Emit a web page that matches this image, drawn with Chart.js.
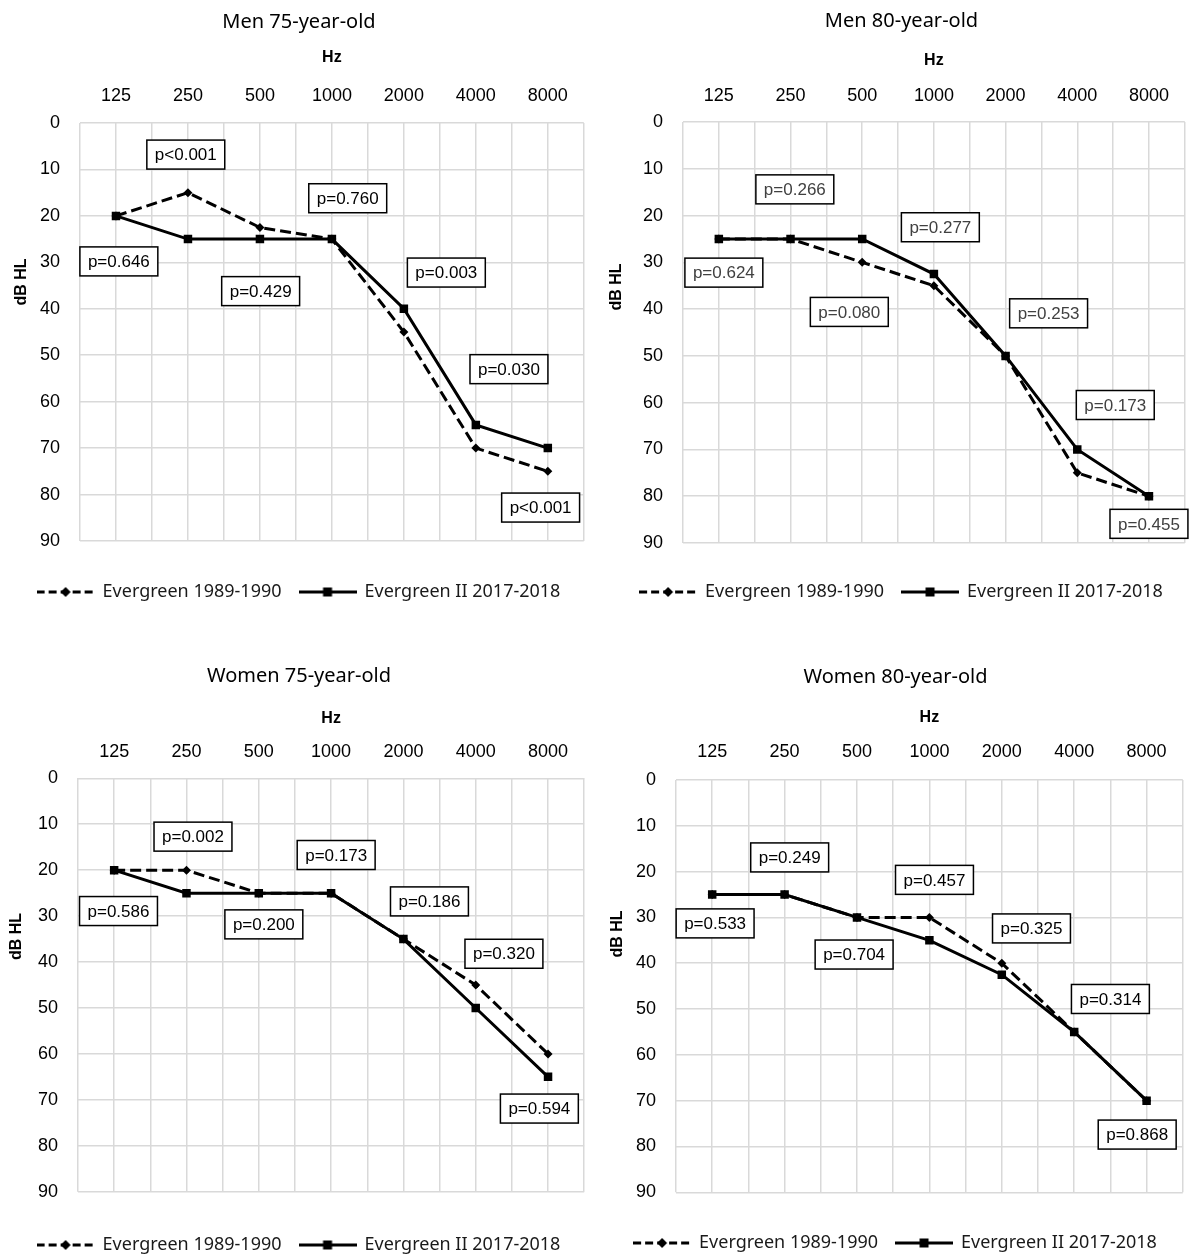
<!DOCTYPE html>
<html>
<head>
<meta charset="utf-8">
<title>Audiograms Evergreen</title>
<script src="https://cdn.jsdelivr.net/npm/chart.js@4.4.1/dist/chart.umd.min.js"></script>
<style>
  html, body { margin: 0; padding: 0; background: #fff; }
  body { width: 1190px; height: 1255px; overflow: hidden; position: relative; }
  canvas { position: absolute; }
</style>
</head>
<body>
<canvas id="men75" width="600" height="650" style="left:0px;top:0px"></canvas>
<canvas id="men80" width="600" height="650" style="left:600px;top:0px"></canvas>
<canvas id="women75" width="600" height="650" style="left:0px;top:656px"></canvas>
<canvas id="women80" width="600" height="650" style="left:600px;top:656px"></canvas>
<script>
// Frequências (eixo X) e nomes das séries
const frequencies = ["125", "250", "500", "1000", "2000", "4000", "8000"];
const seriesNames = ["Evergreen 1989-1990", "Evergreen II 2017-2018"];

// Limiares (dB HL)
const men75Old = [20, 15, 22.5, 25, 45, 70, 75];
const men75New = [20, 25, 25, 25, 40, 65, 70];
const men80Old = [25, 25, 30, 35, 50, 75, 80];
const men80New = [25, 25, 25, 32.5, 50, 70, 80];
const women75Old = [20, 20, 25, 25, 35, 45, 60];
const women75New = [20, 25, 25, 25, 35, 50, 65];
const women80Old = [25, 25, 30, 30, 40, 55, 70];
const women80New = [25, 25, 30, 35, 42.5, 55, 70];

// Valores de p e onde ficam (índice da frequência, dB HL)
const men75P = ["p<0.001", "p=0.760", "p=0.646", "p=0.429", "p=0.003", "p=0.030", "p<0.001"];
const men75PX = [0.97, 3.22, 0.04, 2.01, 4.59, 5.46, 5.9];
const men75PY = [6.8, 16.2, 29.8, 36.2, 32.2, 53, 82.8];

const men80P = ["p=0.266", "p=0.277", "p=0.624", "p=0.080", "p=0.253", "p=0.173", "p=0.455"];
const men80PX = [1.06, 3.09, 0.07, 1.82, 4.6, 5.53, 6.0];
const men80PY = [14.4, 22.5, 32.2, 40.6, 40.9, 60.5, 85.9];

const women75P = ["p=0.002", "p=0.173", "p=0.586", "p=0.200", "p=0.186", "p=0.320", "p=0.594"];
const women75PX = [1.09, 3.07, 0.06, 2.07, 4.36, 5.39, 5.88];
const women75PY = [12.7, 16.7, 28.9, 31.8, 26.8, 38.2, 71.9];

const women80P = ["p=0.249", "p=0.457", "p=0.533", "p=0.704", "p=0.325", "p=0.314", "p=0.868"];
const women80PX = [1.07, 3.07, 0.04, 1.96, 4.41, 5.5, 5.87];
const women80PY = [16.9, 21.8, 31.3, 38.1, 32.4, 47.8, 77.4];

const gridColor = "#d9d9d9";
const sansUI = "'Noto Sans', 'Open Sans', sans-serif";
const sansArial = "'Liberation Sans', Arial, sans-serif";

// Amostra da legenda: linha (tracejada ou não) com o marcador no meio
function legendSample(dashed, marker) {
  const c = document.createElement("canvas");
  c.width = 58;
  c.height = 14;
  const g = c.getContext("2d");
  g.strokeStyle = "#000";
  g.lineWidth = 3;
  if (dashed) g.setLineDash([8, 4]);
  g.beginPath();
  g.moveTo(0, 7);
  g.lineTo(58, 7);
  g.stroke();
  g.setLineDash([]);
  g.fillStyle = "#000";
  if (marker === "diamond") {
    g.beginPath();
    g.moveTo(29, 2);
    g.lineTo(34, 7);
    g.lineTo(29, 12);
    g.lineTo(24, 7);
    g.closePath();
    g.fill();
  } else {
    g.fillRect(24.5, 2.5, 9, 9);
  }
  return c;
}
const dashedSample = legendSample(true, "diamond");
const solidSample = legendSample(false, "square");

// Caixas com os valores de p
function pBoxesPlugin(labels, xs, ys, color) {
  return {
    id: "pBoxes",
    afterDatasetsDraw(chart) {
      const { ctx, scales } = chart;
      ctx.save();
      ctx.font = "17px " + sansArial;
      ctx.textAlign = "center";
      ctx.textBaseline = "middle";
      labels.forEach((t, i) => {
        const px = scales.x.getPixelForValue(xs[i]);
        const py = scales.y.getPixelForValue(ys[i]);
        const w = ctx.measureText(t).width + 16;
        const h = 29;
        ctx.fillStyle = "#fff";
        ctx.fillRect(px - w / 2, py - h / 2, w, h);
        ctx.lineWidth = 1.5;
        ctx.strokeStyle = "#000";
        ctx.strokeRect(px - w / 2, py - h / 2, w, h);
        ctx.fillStyle = color;
        ctx.fillText(t, px, py + 1);
      });
      ctx.restore();
    },
  };
}

// Título do eixo Y ("dB HL"), girado
function yTitlePlugin(x, y) {
  return {
    id: "yTitle",
    afterDraw(chart) {
      const ctx = chart.ctx;
      ctx.save();
      ctx.translate(x, y);
      ctx.rotate(-Math.PI / 2);
      ctx.font = "bold 16px " + sansArial;
      ctx.textAlign = "center";
      ctx.textBaseline = "middle";
      ctx.fillStyle = "#000";
      ctx.fillText("dB HL", 0, 0);
      ctx.restore();
    },
  };
}

function renderPanel(id, cfg) {
  const H = 650;
  const legendFont = 18;
  const legendPad = 18;
  const gap = cfg.legendY - cfg.plotBottom - legendPad - legendFont / 2;
  const legendHeight = gap + legendFont + legendPad + 10;

  const ctx = document.getElementById(id).getContext("2d");
  return new Chart(ctx, {
    type: "line",
    data: {
      datasets: [
        {
          label: seriesNames[1],
          data: cfg.newData.map((v, i) => ({ x: i, y: v })),
          borderColor: "#000",
          borderWidth: 3,
          pointStyle: "rect",
          pointRadius: 6,
          pointBackgroundColor: "#000",
          pointBorderColor: "#000",
          pointBorderWidth: 0,
        },
        {
          label: seriesNames[0],
          data: cfg.oldData.map((v, i) => ({ x: i, y: v })),
          borderColor: "#000",
          borderWidth: 3,
          borderDash: [11, 5],
          pointStyle: "rectRot",
          pointRadius: 4.5,
          pointBackgroundColor: "#000",
          pointBorderColor: "#000",
          pointBorderWidth: 0,
        },
      ],
    },
    options: {
      responsive: false,
      animation: false,
      layout: {
        padding: { left: cfg.padL, right: cfg.padR, top: 0, bottom: H - cfg.plotBottom - legendHeight },
      },
      scales: {
        x: {
          type: "linear",
          position: "top",
          min: -0.5,
          max: 6.5,
          ticks: {
            stepSize: 0.5,
            autoSkip: false,
            maxRotation: 0,
            padding: cfg.plotTop - cfg.tickY - 10.8,
            color: "#000",
            font: { size: 18, family: sansArial },
            callback: (v) => (Number.isInteger(v) ? frequencies[v] : ""),
          },
          grid: { color: gridColor, lineWidth: 1.5, drawTicks: false },
          border: { display: false },
          title: {
            display: true,
            text: "Hz",
            color: "#000",
            font: { size: 16, weight: "bold", family: sansArial },
            padding: { top: cfg.hzY - cfg.titleY - 12 - 9.6, bottom: 0 },
          },
          afterFit(scale) {
            scale.height = cfg.plotTop - cfg.titleY - 12;
          },
        },
        y: {
          type: "linear",
          reverse: true,
          min: 0,
          max: 90,
          ticks: {
            stepSize: 10,
            padding: 20,
            color: "#000",
            font: { size: 18, family: sansArial },
          },
          grid: { color: gridColor, lineWidth: 1.5, drawTicks: false },
          border: { display: false },
          afterFit(scale) {
            scale.width = cfg.yWidth;
          },
        },
      },
      plugins: {
        title: {
          display: true,
          text: cfg.title,
          color: "#000",
          font: { size: 20, weight: "normal", family: sansUI },
          padding: { top: cfg.titleY - 12, bottom: 0 },
        },
        legend: {
          position: "bottom",
          title: { display: true, text: " ", font: { size: 1 }, padding: { top: gap - 1.2, bottom: 0 } },
          labels: {
            usePointStyle: true,
            pointStyleWidth: 56,
            padding: legendPad,
            color: "#1a1a1a",
            font: { size: legendFont, family: sansUI },
            generateLabels: () => [
              { text: seriesNames[0], pointStyle: dashedSample, fillStyle: "#000", strokeStyle: "#000", lineWidth: 0, hidden: false, datasetIndex: 1, fontColor: "#1a1a1a" },
              { text: seriesNames[1], pointStyle: solidSample, fillStyle: "#000", strokeStyle: "#000", lineWidth: 0, hidden: false, datasetIndex: 0, fontColor: "#1a1a1a" },
            ],
          },
        },
        tooltip: { enabled: false },
      },
    },
    plugins: [pBoxesPlugin(cfg.pLabels, cfg.pX, cfg.pY, cfg.pColor), yTitlePlugin(cfg.yTitleX, cfg.yTitleY)],
  });
}

renderPanel("men75", {
  title: "Men 75-year-old", oldData: men75Old, newData: men75New,
  pLabels: men75P, pX: men75PX, pY: men75PY, pColor: "#000",
  padL: 14, padR: 16, yWidth: 66,
  titleY: 22, hzY: 58, tickY: 96, plotTop: 123, plotBottom: 541, legendY: 592,
  yTitleX: 22, yTitleY: 282,
});

renderPanel("men80", {
  title: "Men 80-year-old", oldData: men80Old, newData: men80New,
  pLabels: men80P, pX: men80PX, pY: men80PY, pColor: "#404040",
  padL: 11, padR: 8, yWidth: 72,
  titleY: 21.7, hzY: 61, tickY: 96, plotTop: 122, plotBottom: 543, legendY: 592,
  yTitleX: 17, yTitleY: 287,
});

renderPanel("women75", {
  title: "Women 75-year-old", oldData: women75Old, newData: women75New,
  pLabels: women75P, pX: women75PX, pY: women75PY, pColor: "#000",
  padL: 13, padR: 15, yWidth: 65,
  titleY: 20.7, hzY: 63, tickY: 95.7, plotTop: 122.3, plotBottom: 535.7, legendY: 589,
  yTitleX: 17, yTitleY: 280.5,
});

renderPanel("women80", {
  title: "Women 80-year-old", oldData: women80Old, newData: women80New,
  pLabels: women80P, pX: women80PX, pY: women80PY, pColor: "#000",
  padL: 2, padR: 11, yWidth: 74,
  titleY: 21, hzY: 62, tickY: 96, plotTop: 124, plotBottom: 536.3, legendY: 587,
  yTitleX: 18, yTitleY: 278,
});
</script>
</body>
</html>
